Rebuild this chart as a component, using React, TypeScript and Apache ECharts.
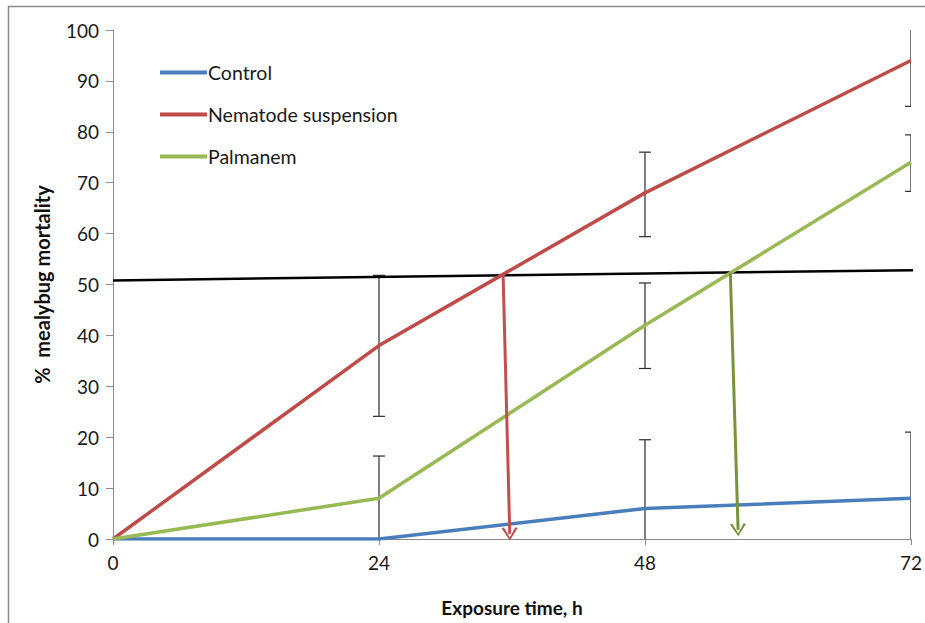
import React, { useEffect, useRef } from "react";
import * as echarts from "echarts";

const hours = [0, 24, 48, 72];
const controlValues = [0, 0, 6, 8];
const nematodeValues = [0, 38, 68, 94];
const palmanemValues = [0, 8, 42, 74];

// error bars: [x, low, high]
const controlErrors = [[48, -7.5, 19.5], [72, -5, 21]];
const nematodeErrors = [[24, 24.1, 51.8], [48, 59.4, 76.0], [72, 85, 103]];
const palmanemErrors = [[24, -0.3, 16.3], [48, 33.5, 50.3], [72, 68.3, 79.4]];

// LT50 reference line and arrows
const refLine = [[0, 50.8], [73.5, 52.85]];
const redArrow = [[35.2, 51.8], [35.8, 1.0]];
const greenArrow = [[55.7, 52.3], [56.4, 1.8]];

const yTicks = { min: 0, max: 100, interval: 10 };
const xTicks = { min: 0, max: 72, interval: 24 };

const FONT = "Lato, 'Noto Sans', sans-serif";
const chevron = "path://M0,10 L5,0 L10,10 L8.6,10.7 L5,2.6 L1.4,10.7 Z";

export default function App() {
  const ref = useRef<HTMLDivElement>(null);
  useEffect(() => {
    if (!ref.current) return;
    const chart = echarts.init(ref.current, undefined, { renderer: "svg" });
    const allErrors = [...controlErrors, ...nematodeErrors, ...palmanemErrors];
    const toPairs = (vals: number[]) => hours.map((h, i) => [h, vals[i]]);
    chart.setOption({
      animation: false,
      backgroundColor: "#ffffff",
      grid: { left: 113, right: 11, top: 30, bottom: 84, containLabel: false },
      graphic: [
        {
          type: "rect",
          shape: { x: 8.5, y: 6.5, width: 1000, height: 1000 },
          style: { fill: "none", stroke: "#8a8a8a", lineWidth: 1.5 },
          silent: true,
          z: 100,
        },
      ],
      legend: {
        orient: "vertical",
        left: 155,
        top: 56,
        itemWidth: 47,
        itemHeight: 4,
        itemGap: 19,
        icon: "rect",
        textStyle: { fontFamily: FONT, fontSize: 19.5, lineHeight: 23, color: "#1a1a1a", padding: [0, 0, 0, -4] },
        data: ["Control", "Nematode suspension", "Palmanem"],
      },
      xAxis: {
        type: "value",
        min: xTicks.min,
        max: xTicks.max,
        interval: xTicks.interval,
        name: "Exposure time, h",
        nameLocation: "middle",
        nameGap: 59,
        nameTextStyle: { fontFamily: FONT, fontSize: 19, fontWeight: "bold", color: "#111" },
        axisLine: { show: true, lineStyle: { color: "#8c8c8c", width: 1 } },
        axisTick: { show: true, length: 6, lineStyle: { color: "#8c8c8c" } },
        axisLabel: { fontFamily: FONT, fontSize: 19, color: "#1a1a1a", margin: 14 },
        splitLine: { show: false },
      },
      yAxis: {
        type: "value",
        min: yTicks.min,
        max: yTicks.max,
        interval: yTicks.interval,
        name: "%  mealybug mortality",
        nameLocation: "middle",
        nameGap: 61,
        nameRotate: 90,
        nameTextStyle: { fontFamily: FONT, fontSize: 20, fontWeight: "bold", color: "#111" },
        axisLine: { show: true, lineStyle: { color: "#8c8c8c", width: 1 } },
        axisTick: { show: true, length: 7, lineStyle: { color: "#8c8c8c" } },
        axisLabel: { fontFamily: FONT, fontSize: 19, color: "#1a1a1a", margin: 14 },
        splitLine: { show: false },
      },
      series: [
        {
          type: "custom",
          name: "errors",
          clip: true,
          z: 1,
          silent: true,
          data: allErrors,
          renderItem: (params: any, api: any) => {
            const x = api.value(0);
            const lo = api.coord([x, api.value(1)]);
            const hi = api.coord([x, api.value(2)]);
            const cw = 6;
            const style = { stroke: "#2a2a2a", lineWidth: 1.2 };
            return {
              type: "group",
              children: [
                { type: "line", shape: { x1: lo[0], y1: lo[1], x2: hi[0], y2: hi[1] }, style },
                { type: "line", shape: { x1: hi[0] - cw, y1: hi[1], x2: hi[0] + cw, y2: hi[1] }, style },
                { type: "line", shape: { x1: lo[0] - cw, y1: lo[1], x2: lo[0] + cw, y2: lo[1] }, style },
              ],
            };
          },
        },
        {
          type: "line",
          name: "Ref",
          data: refLine,
          clip: false,
          symbol: "none",
          lineStyle: { color: "#000000", width: 2.5 },
          z: 2,
          silent: true,
        },
        {
          type: "line",
          name: "Control",
          data: toPairs(controlValues),
          symbol: "none",
          color: "#4a7ebb",
          lineStyle: { color: "#4a7ebb", width: 3.5 },
          z: 3,
        },
        {
          type: "line",
          name: "Nematode suspension",
          data: toPairs(nematodeValues),
          symbol: "none",
          color: "#be4b48",
          lineStyle: { color: "#be4b48", width: 3.5 },
          z: 3,
        },
        {
          type: "line",
          name: "Palmanem",
          data: toPairs(palmanemValues),
          symbol: "none",
          color: "#98b954",
          lineStyle: { color: "#98b954", width: 3.5 },
          z: 3,
        },
        {
          type: "line",
          name: "arrows",
          data: [],
          silent: true,
          z: 4,
          markLine: {
            silent: true,
            animation: false,
            symbol: ["none", chevron],
            symbolSize: [16, 13],
            label: { show: false },
            data: [
              [
                { coord: redArrow[0], lineStyle: { color: "#c0504d", width: 3, type: "solid" }, itemStyle: { color: "#c0504d" } },
                { coord: redArrow[1] },
              ],
              [
                { coord: greenArrow[0], lineStyle: { color: "#77933c", width: 3, type: "solid" }, itemStyle: { color: "#77933c" } },
                { coord: greenArrow[1] },
              ],
            ],
          },
        },
      ],
    });
    return () => chart.dispose();
  }, []);
  return <div ref={ref} style={{ width: 925, height: 623, position: "absolute", left: 0, top: 0 }} />;
}
